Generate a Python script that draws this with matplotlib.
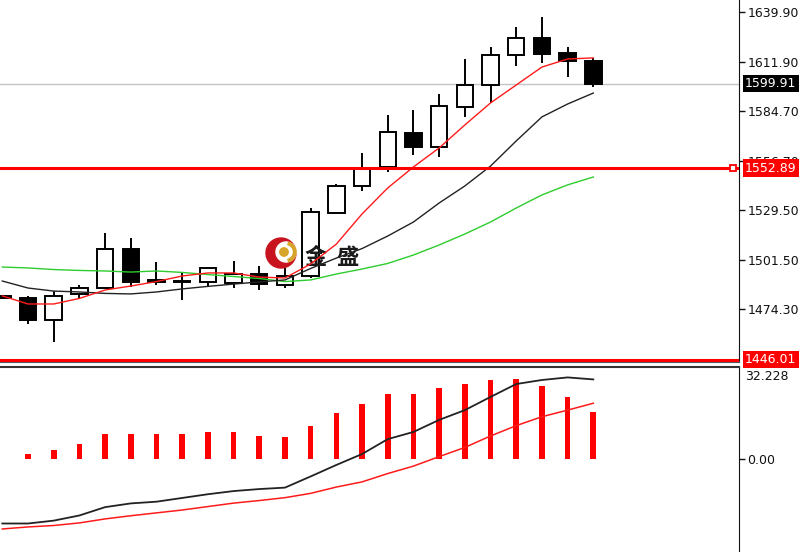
import matplotlib
matplotlib.use('Agg')
import matplotlib.pyplot as plt
import matplotlib.transforms as mtrans
from matplotlib.patches import Rectangle, Circle, Wedge

plt.rcParams['font.family'] = ['DejaVu Sans']

# ---------------- data ----------------
idx = list(range(-1, 23))
opens  = [1481.5, 1480.4, 1468.2, 1482.7, 1486.0, 1507.8, 1490.2, 1490.0, 1489.4, 1488.8, 1493.8, 1487.7,
          1492.7, 1527.8, 1542.9, 1553.5, 1572.4, 1564.6, 1586.9, 1599.2, 1615.9, 1625.4, 1617.0, 1612.6]
highs  = [1482.2, 1481.5, 1484.3, 1487.7, 1516.7, 1513.9, 1500.5, 1494.4, 1497.6, 1501.1, 1498.3, 1497.2,
          1530.6, 1544.0, 1561.3, 1582.5, 1585.3, 1594.2, 1613.7, 1620.4, 1631.5, 1637.1, 1620.4, 1614.3]
lows   = [1479.6, 1465.9, 1455.9, 1479.9, 1486.0, 1486.6, 1487.7, 1479.3, 1487.1, 1486.0, 1484.9, 1486.0,
          1491.6, 1527.8, 1540.1, 1550.7, 1560.2, 1559.1, 1581.4, 1589.2, 1609.8, 1611.5, 1603.6, 1598.1]
closes = [1480.4, 1468.2, 1481.5, 1486.0, 1507.8, 1489.4, 1489.4, 1489.4, 1497.2, 1493.8, 1488.3, 1492.7,
          1528.4, 1542.9, 1552.9, 1573.0, 1564.6, 1587.5, 1599.2, 1615.9, 1625.4, 1616.5, 1612.6, 1599.9]

ma_fast = [1481.6, 1477.1, 1477.1, 1480.2, 1484.9, 1487.1, 1489.6, 1492.7, 1494.4, 1494.4, 1492.1, 1491.6,
           1499.4, 1510.5, 1527.3, 1541.8, 1553.5, 1564.1, 1576.9, 1589.2, 1599.2, 1609.2, 1613.7, 1614.3]
ma_mid  = [1489.9, 1486.0, 1484.3, 1483.8, 1483.0, 1482.7, 1483.8, 1485.5, 1486.9, 1488.2, 1489.4, 1490.5,
           1496.9, 1502.7, 1508.0, 1515.0, 1522.8, 1533.4, 1542.9, 1554.0, 1568.0, 1581.4, 1588.6, 1594.7]
ma_slow = [1497.7, 1497.2, 1496.3, 1495.8, 1495.5, 1494.9, 1495.5, 1494.7, 1493.5, 1492.4, 1491.3, 1489.6,
           1490.5, 1493.8, 1496.6, 1499.7, 1504.4, 1510.0, 1516.1, 1522.8, 1530.6, 1537.9, 1543.5, 1547.9]

hist_idx = list(range(0, 23))
hist = [1.9, 3.3, 5.3, 8.9, 8.9, 8.9, 8.9, 9.6, 9.6, 8.3, 7.7, 11.8, 16.1, 19.2, 22.9, 22.9,
        25.0, 26.2, 27.6, 28.2, 25.5, 21.9, 16.7]
macd_line = [-22.3, -22.3, -21.3, -19.5, -16.6, -15.3, -14.7, -13.4, -12.1, -11.0, -10.3, -9.8,
             -5.9, -1.9, 1.9, 7.1, 9.6, 13.8, 17.2, 21.8, 26.3, 27.7, 28.6, 27.9]
signal_line = [-24.2, -23.5, -23.0, -22.1, -20.7, -19.6, -18.6, -17.6, -16.4, -15.2, -14.3, -13.3,
               -11.8, -9.6, -7.8, -4.9, -2.3, 1.0, 4.2, 8.2, 11.8, 14.9, 17.2, 19.6]

price_ticks = [1639.90, 1611.90, 1584.70, 1556.70, 1529.50, 1501.50, 1474.30]
last_price = 1599.91
level_hi = 1552.89
level_lo = 1446.01
ind_top = 32.228
ind_ticks = [0.0]
watermark = ['金', '盛']

# ---------------- layout ----------------
W, H = 800, 552
fig = plt.figure(figsize=(W / 100, H / 100), dpi=100)
fig.patch.set_facecolor('white')

ax = fig.add_axes([0, 1 - 362 / H, 739 / W, 362 / H])
ax2 = fig.add_axes([0, 0, 739 / W, (552 - 367) / H])

xlim = (-1.09, 27.67)

# ---------------- candles ----------------
for i, o, h, l, c in zip(idx, opens, highs, lows, closes):
    ax.plot([i, i], [l, h], color='black', lw=1.4, zorder=2, solid_capstyle='butt')
    bottom = min(o, c)
    height = max(abs(c - o), 0.6)
    fc = 'black' if c < o else 'white'
    ax.add_patch(Rectangle((i - 0.32, bottom), 0.64, height, facecolor=fc,
                           edgecolor='black', lw=1.4, zorder=3))

# moving averages
ax.plot(idx, ma_slow, color='#2ecc2e', lw=1.0, zorder=4)
ax.plot(idx, ma_mid, color='#222222', lw=1.0, zorder=4)
ax.plot(idx, ma_fast, color='#ff1a1a', lw=1.0, zorder=4)

# horizontal levels
ax.axhline(last_price, color='#c4c4c4', lw=1.0, zorder=1)
ax.axhline(level_hi, color='#ff0000', lw=2.2, zorder=5)
ax.axhline(level_lo, color='#ff0000', lw=2.2, zorder=5)
ax.plot([0.9925], [level_hi], marker='s', ms=5, mfc='white', mec='#ff0000', mew=1.3,
        transform=ax.get_yaxis_transform(), zorder=6, clip_on=False)

ax.set_xlim(*xlim)
ax.set_ylim(1444.75, 1646.59)

ax.yaxis.tick_right()
ax.set_yticks(price_ticks)
ax.set_yticklabels([f'{v:.2f}' for v in price_ticks])
ax.tick_params(axis='y', length=4, width=1, pad=2, labelsize=9, colors='#111111')
ax.set_xticks([])
for s in ['top', 'left']:
    ax.spines[s].set_visible(False)
ax.spines['right'].set_color('#111111')
ax.spines['bottom'].set_color('#555555')
ax.spines['bottom'].set_linewidth(1.5)

# highlighted price labels
lab_trans = mtrans.offset_copy(ax.get_yaxis_transform(), fig=fig, x=6, y=0, units='dots')
for val, col in [(last_price, 'black'), (level_hi, '#ff0000'), (level_lo, '#ff0000')]:
    ax.text(1.0, val, f'{val:.2f}', transform=lab_trans, color='white', fontsize=9,
            va='center', ha='left', zorder=10, clip_on=False,
            bbox=dict(boxstyle='square,pad=0.18', fc=col, ec='none'))

# watermark logo (decoration, pixel coordinates)
pix = mtrans.Affine2D().scale(1 / fig.dpi) + fig.dpi_scale_trans
cx, cy = 281, H - 253
for p in [Circle((cx, cy), 15, color='#c8141e'),
          Circle((cx + 5, cy + 1), 10, color='white'),
          Wedge((cx + 5, cy + 1), 10, -75, 75, width=2.5, color='#d6a528'),
          Circle((cx + 3, cy + 1), 4.2, color='#d6a528')]:
    p.set_transform(pix)
    p.set_zorder(3.5)
    p.set_clip_on(False)
    ax.add_artist(p)
cjk = ['Noto Sans CJK SC', 'DejaVu Sans']
for ch, px in zip(watermark, [305, 336]):
    ax.text(px / W, 1 - 257 / H, ch, transform=fig.transFigure, family=cjk, fontsize=16,
            fontweight='bold', va='center', ha='left', color='#1a1a1a', zorder=3.5)

# ---------------- indicator ----------------
ax2.bar(hist_idx, hist, width=0.22, color='#ff0000', zorder=2)
ax2.plot(idx, macd_line, color='#222222', lw=1.3, zorder=3)
ax2.plot(idx, signal_line, color='#ff1a1a', lw=1.1, zorder=3)
ax2.set_xlim(*xlim)
ax2.set_ylim(-32.23, ind_top)
ax2.yaxis.tick_right()
ax2.set_yticks(ind_ticks)
ax2.set_yticklabels([f'{v:.2f}' for v in ind_ticks])
ax2.tick_params(axis='y', length=4, width=1, pad=2, labelsize=9, colors='#111111')
ax2.set_xticks([])
for s in ['bottom', 'left']:
    ax2.spines[s].set_visible(False)
ax2.spines['right'].set_color('#111111')
ax2.spines['top'].set_color('#333333')
ax2.spines['top'].set_linewidth(1.5)
top_trans = mtrans.offset_copy(ax2.transAxes, fig=fig, x=6, y=-3, units='dots')
ax2.text(1.0, 1.0, f'{ind_top:.3f}', transform=top_trans, fontsize=9, color='#111111',
         va='top', ha='left', clip_on=False)

fig.savefig('out.png', dpi=100, facecolor='white')
